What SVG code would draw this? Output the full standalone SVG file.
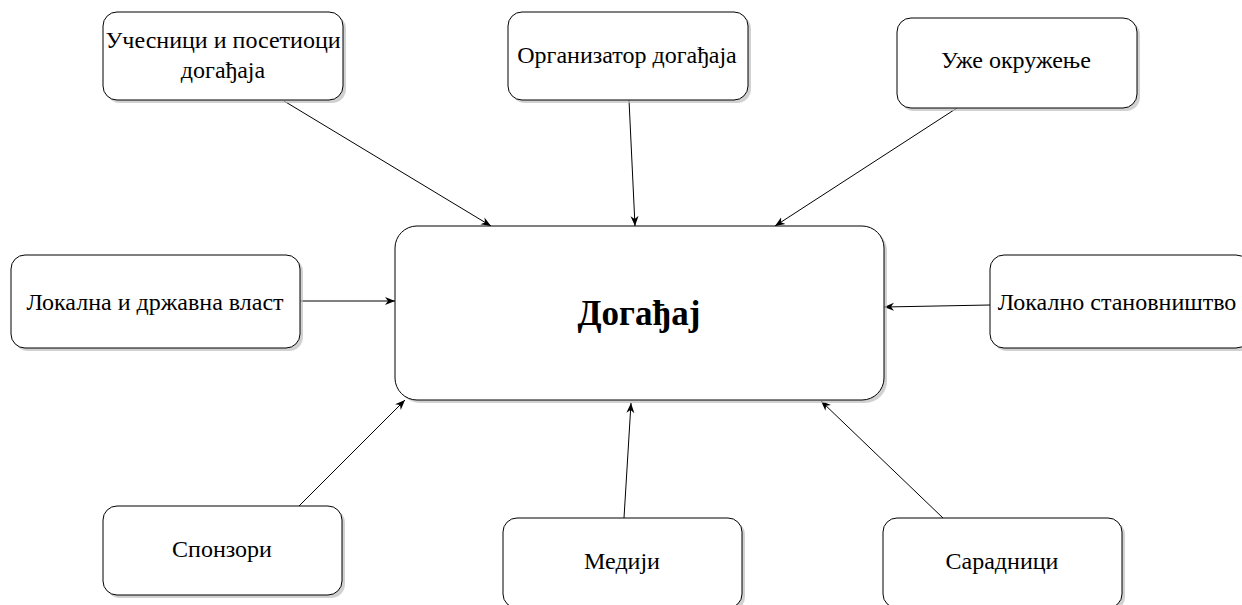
<svg xmlns="http://www.w3.org/2000/svg" width="1242" height="605" viewBox="0 0 1242 605">
<style>
.box{fill:#fff;stroke:#000;stroke-width:1}
.sh{fill:#bdbdbd;opacity:0.7}
.t{font-family:"Liberation Serif","Times New Roman",serif;font-size:24px;fill:#000;text-anchor:middle}
.tb{font-family:"Liberation Serif","Times New Roman",serif;font-size:35px;font-weight:bold;fill:#000;text-anchor:middle}
.c{stroke:#000;stroke-width:1;fill:none;marker-end:url(#ah)}
</style>
<defs>
<marker id="ah" viewBox="0 0 10 10" refX="10" refY="5" markerWidth="10" markerHeight="10" markerUnits="userSpaceOnUse" orient="auto">
<path d="M0,1 L10,5 L0,9 L3,5 Z" fill="#000"/>
</marker>
</defs>
<rect width="1242" height="605" fill="#fff"/>
<g id="connectors">
<line class="c" x1="284" y1="101" x2="491" y2="226"/>
<line class="c" x1="629" y1="100" x2="635" y2="226"/>
<line class="c" x1="957" y1="108" x2="775" y2="226"/>
<line class="c" x1="300" y1="301" x2="395" y2="301"/>
<line class="c" x1="990" y1="305" x2="884" y2="307"/>
<line class="c" x1="299" y1="506" x2="405" y2="400"/>
<line class="c" x1="624" y1="518" x2="631" y2="403"/>
<line class="c" x1="943" y1="518" x2="821" y2="401"/>
</g>
<g id="n-event">
<rect class="sh" x="398" y="229" width="489" height="174" rx="22"/>
<rect class="box" x="395" y="226" width="489" height="174" rx="22"/>
<text class="tb" x="639" y="325">Догађај</text>
</g>
<g id="n-participants">
<rect class="sh" x="106" y="15" width="240" height="88" rx="14"/>
<rect class="box" x="103" y="12" width="240" height="88" rx="14"/>
<text class="t" x="223" y="48">Учесници и посетиоци</text>
<text class="t" x="223" y="78">догађаја</text>
</g>
<g id="n-organizer">
<rect class="sh" x="511" y="15" width="240" height="88" rx="14"/>
<rect class="box" x="508" y="12" width="240" height="88" rx="14"/>
<text class="t" x="627" y="63">Организатор догађаја</text>
</g>
<g id="n-environment">
<rect class="sh" x="900" y="21" width="240" height="90" rx="14"/>
<rect class="box" x="897" y="18" width="240" height="90" rx="14"/>
<text class="t" x="1016" y="68">Уже окружење</text>
</g>
<g id="n-authorities">
<rect class="sh" x="14" y="258" width="289" height="93" rx="14"/>
<rect class="box" x="11" y="255" width="289" height="93" rx="14"/>
<text class="t" x="155" y="310">Локална и државна власт</text>
</g>
<g id="n-locals">
<rect class="sh" x="993" y="258" width="260" height="93" rx="14"/>
<rect class="box" x="990" y="255" width="260" height="93" rx="14"/>
<text class="t" x="1117" y="310">Локално становништво</text>
</g>
<g id="n-sponsors">
<rect class="sh" x="106" y="509" width="239" height="89" rx="14"/>
<rect class="box" x="103" y="506" width="239" height="89" rx="14"/>
<text class="t" x="222" y="557">Спонзори</text>
</g>
<g id="n-media">
<rect class="sh" x="506" y="521" width="239" height="90" rx="14"/>
<rect class="box" x="503" y="518" width="239" height="90" rx="14"/>
<text class="t" x="622" y="569">Медији</text>
</g>
<g id="n-partners">
<rect class="sh" x="886" y="521" width="239" height="90" rx="14"/>
<rect class="box" x="883" y="518" width="239" height="90" rx="14"/>
<text class="t" x="1002" y="569">Сарадници</text>
</g>
</svg>
